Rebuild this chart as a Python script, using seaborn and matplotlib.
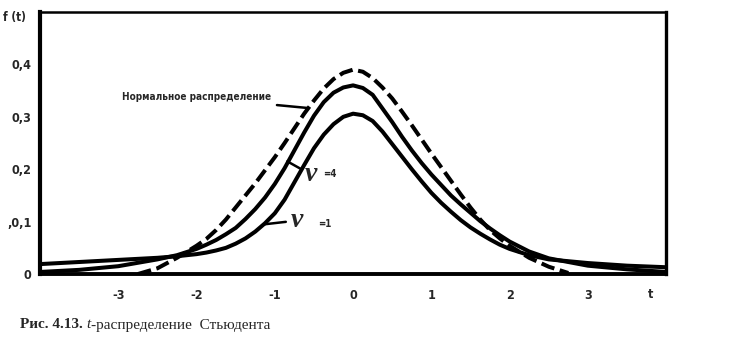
import matplotlib
matplotlib.use("Agg")
import matplotlib.pyplot as plt
import seaborn as sns

# Density values f(t)
t_norm = [-2.75, -2.5, -2.25, -2.0, -1.875, -1.75, -1.625, -1.5, -1.375, -1.25, -1.125, -1.0,
          -0.875, -0.75, -0.625, -0.5, -0.375, -0.25, -0.125, 0.0, 0.125, 0.25, 0.375, 0.5,
          0.625, 0.75, 0.875, 1.0, 1.125, 1.25, 1.375, 1.5, 1.625, 1.75, 1.875, 2.0, 2.25,
          2.5, 2.75]
f_norm = [0.0, 0.011, 0.031, 0.054, 0.067, 0.084, 0.104, 0.127, 0.15, 0.173, 0.198, 0.223,
          0.25, 0.278, 0.306, 0.331, 0.354, 0.372, 0.384, 0.39, 0.386, 0.374, 0.356, 0.335,
          0.31, 0.284, 0.257, 0.23, 0.204, 0.178, 0.152, 0.127, 0.104, 0.084, 0.068, 0.054, 0.031,
          0.014, 0.002]

t_stud = [-4.0, -3.5, -3.0, -2.5, -2.25, -2.0, -1.875, -1.75, -1.625, -1.5, -1.375, -1.25,
          -1.125, -1.0, -0.875, -0.75, -0.625, -0.5, -0.375, -0.25, -0.125, 0.0, 0.125, 0.25,
          0.375, 0.5, 0.625, 0.75, 0.875, 1.0, 1.125, 1.25, 1.375, 1.5, 1.625, 1.75, 1.875,
          2.0, 2.25, 2.5, 3.0, 3.5, 4.0]
f_nu4 = [0.004, 0.008, 0.015, 0.028, 0.036, 0.048, 0.056, 0.065, 0.076, 0.088, 0.105, 0.124,
         0.146, 0.172, 0.202, 0.236, 0.27, 0.302, 0.328, 0.346, 0.356, 0.36, 0.355, 0.342,
         0.316, 0.29, 0.262, 0.236, 0.212, 0.19, 0.17, 0.15, 0.133, 0.117, 0.101, 0.087, 0.074,
         0.062, 0.043, 0.03, 0.016, 0.009, 0.004]
f_nu1 = [0.019, 0.023, 0.027, 0.031, 0.034, 0.038, 0.041, 0.045, 0.050, 0.058, 0.068, 0.081,
         0.097, 0.116, 0.142, 0.175, 0.208, 0.24, 0.266, 0.286, 0.300, 0.306, 0.303, 0.292,
         0.272, 0.248, 0.224, 0.2, 0.177, 0.155, 0.136, 0.119, 0.103, 0.089, 0.077, 0.066, 0.056,
         0.048, 0.036, 0.028, 0.021, 0.016, 0.013]

x_ticks = [-3, -2, -1, 0, 1, 2, 3]
x_ticklabels = ["-3", "-2", "-1", "0", "1", "2", "3"]
y_ticks = [0.0, 0.1, 0.2, 0.3, 0.4]
y_ticklabels = ["0", ",0,1", "0,2", "0,3", "0,4"]

sns.set_style("white")
serif = ["Liberation Serif", "DejaVu Serif"]
plt.rcParams["font.family"] = ["DejaVu Sans"]
plt.rcParams["font.stretch"] = "condensed"

fig = plt.figure(figsize=(7.41, 3.43), dpi=100)
ax = fig.add_axes([0.054, 0.201, 0.845, 0.764])

lw = 2.9
sns.lineplot(x=t_norm, y=f_norm, ax=ax, color="black", lw=lw,
             linestyle=(0, (3.4, 1.4)), solid_capstyle="butt")
sns.lineplot(x=t_stud, y=f_nu4, ax=ax, color="black", lw=lw)
sns.lineplot(x=t_stud, y=f_nu1, ax=ax, color="black", lw=lw)

ax.set_xlim(-4, 4)
ax.set_ylim(0, 0.5)
for side, w in {"left": 3.0, "right": 2.4, "top": 1.8, "bottom": 2.8}.items():
    ax.spines[side].set_visible(True)
    ax.spines[side].set_color("black")
    ax.spines[side].set_linewidth(w)

ax.set_xticks(x_ticks)
ax.set_xticklabels(x_ticklabels, fontsize=9, fontweight="bold")
ax.set_yticks(y_ticks)
ax.set_yticklabels(y_ticklabels, fontsize=9, fontweight="bold")
ax.tick_params(axis="x", direction="out", length=5, width=1.5, pad=6, color="black")
ax.tick_params(axis="y", direction="out", length=3, width=1.5, pad=3, color="black")
ax.set_xlabel("")
ax.set_ylabel("")

# axis names
fig.text(3 / 741, 1 - 18 / 343, "f (t)", fontsize=8.5, fontweight="bold", va="center", ha="left")
fig.text(651 / 741, 1 - 294 / 343, "t", fontsize=9, fontweight="bold", va="center", ha="center")

# curve labels with leader lines
ax.annotate("Нормальное распределение", xy=(-0.59, 0.317), xytext=(-1.05, 0.337),
            fontsize=7.2, fontweight="bold", ha="right", va="center",
            arrowprops=dict(arrowstyle="-", color="black", lw=1.8, shrinkA=2, shrinkB=0))
ax.annotate("ν", xy=(-0.84, 0.215), xytext=(-0.62, 0.19),
            fontsize=20, fontstyle="italic", fontweight="bold", ha="left", va="center",
            family=serif,
            arrowprops=dict(arrowstyle="-", color="black", lw=1.8, shrinkA=1, shrinkB=0))
ax.text(-0.38, 0.19, "=4", fontsize=7, fontweight="bold", ha="left", va="center")
ax.annotate("ν", xy=(-1.13, 0.095), xytext=(-0.80, 0.102),
            fontsize=20, fontstyle="italic", fontweight="bold", ha="left", va="center",
            family=serif,
            arrowprops=dict(arrowstyle="-", color="black", lw=1.8, shrinkA=1, shrinkB=0))
ax.text(-0.45, 0.096, "=1", fontsize=7, fontweight="bold", ha="left", va="center")

# caption
y_cap = 1 - 325 / 343
c1 = fig.text(20 / 741, y_cap, "Рис. 4.13. ", fontsize=11, fontweight="bold",
              family=serif, va="center", ha="left")
c2 = fig.text(0, y_cap, "t", fontsize=11, fontstyle="italic", family=serif, va="center")
c3 = fig.text(0, y_cap, "-распределение  Стьюдента", fontsize=11, family=serif, va="center")
fig.canvas.draw()
r = fig.canvas.get_renderer()
c2.set_x(c1.get_window_extent(r).x1 / fig.bbox.width)
fig.canvas.draw()
c3.set_x(c2.get_window_extent(r).x1 / fig.bbox.width)

fig.savefig("out.png", dpi=100)
